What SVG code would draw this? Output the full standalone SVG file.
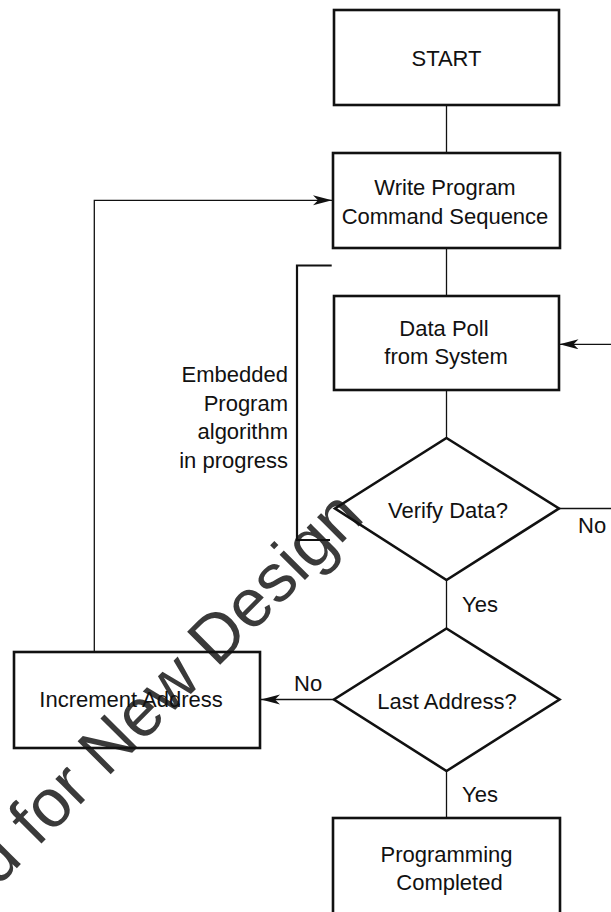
<svg xmlns="http://www.w3.org/2000/svg" width="611" height="912" viewBox="0 0 611 912">
<style>
  .box { fill: none; stroke: #111111; stroke-width: 2.6; }
  .lbl { font-family: "Liberation Sans", Arial, sans-serif; font-size: 22px; fill: #111111; }
  .mid { text-anchor: middle; }
  .end { text-anchor: end; }
  .conn { fill: none; stroke: #111111; stroke-width: 1.3; }
  .brk { fill: none; stroke: #111111; stroke-width: 2.2; }
  .wm { font-family: "Liberation Sans", Arial, sans-serif; font-size: 68px; fill: #3a3a3a; }
</style>
<defs>
  <marker id="arr" markerUnits="userSpaceOnUse" markerWidth="20" markerHeight="11" refX="19" refY="5" orient="auto">
    <path d="M0,0 L19,5 L0,10 L5,5 Z" fill="#111111"/>
  </marker>
</defs>
<rect x="0" y="0" width="611" height="912" fill="#ffffff"/>

<g id="watermark">
  <text class="wm" transform="translate(-2.8,887.8) rotate(-45)" x="0" y="0">d for New Design</text>
</g>

<g id="connectors">
  <line class="conn" x1="446.5" y1="105" x2="446.5" y2="153"/>
  <line class="conn" x1="446.5" y1="248" x2="446.5" y2="296"/>
  <line class="conn" x1="446.5" y1="390" x2="446.5" y2="438"/>
  <line class="conn" x1="446.5" y1="580" x2="446.5" y2="628.5"/>
  <line class="conn" x1="446.5" y1="771" x2="446.5" y2="818"/>
  <polyline class="conn" points="94.3,652 94.3,200.3 332,200.3" marker-end="url(#arr)"/>
  <line class="conn" x1="611" y1="344.3" x2="559.5" y2="344.3" marker-end="url(#arr)"/>
  <line class="conn" x1="559" y1="508.5" x2="611" y2="508.5"/>
  <line class="conn" x1="334" y1="699.5" x2="261" y2="699.5" marker-end="url(#arr)"/>
  <text class="lbl" x="578" y="533">No</text>
  <text class="lbl" x="462" y="612">Yes</text>
  <text class="lbl" x="294" y="691">No</text>
  <text class="lbl" x="462" y="802">Yes</text>
</g>

<g id="bracket">
  <path class="brk" d="M331.7,265.5 H297 V540 H330"/>
  <text class="lbl end" x="288" y="382">Embedded</text>
  <text class="lbl end" x="288" y="411">Program</text>
  <text class="lbl end" x="288" y="439">algorithm</text>
  <text class="lbl end" x="288" y="468">in progress</text>
</g>

<g id="start">
  <rect class="box" x="334" y="10" width="225" height="95"/>
  <text class="lbl mid" x="446.5" y="66">START</text>
</g>

<g id="write">
  <rect class="box" x="333" y="153" width="227" height="95"/>
  <text class="lbl mid" x="445" y="195">Write Program</text>
  <text class="lbl mid" x="445" y="224">Command Sequence</text>
</g>

<g id="datapoll">
  <rect class="box" x="334" y="296" width="225" height="94"/>
  <text class="lbl mid" x="444" y="336">Data Poll</text>
  <text class="lbl mid" x="446" y="364">from System</text>
</g>

<g id="verify">
  <polygon class="box" points="446.5,438 559,508.5 446.5,580 335,508.5"/>
  <text class="lbl mid" x="448" y="518">Verify Data?</text>
</g>

<g id="last">
  <polygon class="box" points="446.5,628.5 559.5,699.5 446.5,771 334,699.5"/>
  <text class="lbl mid" x="447" y="709">Last Address?</text>
</g>

<g id="increment">
  <rect class="box" x="14" y="652" width="246" height="96"/>
  <text class="lbl mid" x="131" y="707">Increment Address</text>
</g>

<g id="completed">
  <rect class="box" x="333" y="818" width="227" height="100"/>
  <text class="lbl mid" x="446.5" y="862">Programming</text>
  <text class="lbl mid" x="449.5" y="890">Completed</text>
</g>
</svg>
